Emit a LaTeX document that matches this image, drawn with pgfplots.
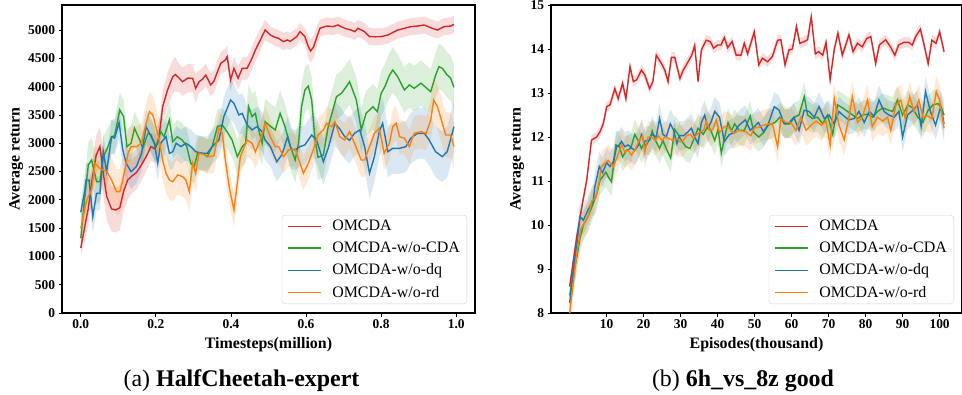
\documentclass[border=0pt]{standalone}
\usepackage{fontspec}
\setmainfont{Liberation Serif}
\usepackage{pgfplots}
\usepackage{pgfplotstable}
\pgfplotsset{compat=1.18}
\usepgfplotslibrary{fillbetween}
\definecolor{cRed}{HTML}{D62728}
\definecolor{cGreen}{HTML}{2CA02C}
\definecolor{cBlue}{HTML}{1F77B4}
\definecolor{cOrange}{HTML}{FF7F0E}

\pgfplotstableread{
t m s
0.000 1150 150
0.010 1500 250
0.020 1850 300
0.030 2350 300
0.041 2790 350
0.051 2940 350
0.060 2470 400
0.069 2060 400
0.082 1838 400
0.093 1820 400
0.104 1860 400
0.114 2150 350
0.125 2350 350
0.136 2420 300
0.148 2480 300
0.160 2600 280
0.174 2760 250
0.187 2940 250
0.197 2900 250
0.205 3000 250
0.212 3300 250
0.218 3645 280
0.231 3940 300
0.245 4175 300
0.252 4215 300
0.262 4150 250
0.271 4087 250
0.285 4150 250
0.298 4147 250
0.306 3970 250
0.315 4087 200
0.324 4130 200
0.333 4205 200
0.346 4030 200
0.355 4100 200
0.364 4264 200
0.373 4412 200
0.385 4470 200
0.390 4529 200
0.399 4117 200
0.408 4323 200
0.419 4147 200
0.430 4323 200
0.443 4323 200
0.456 4500 200
0.465 4647 200
0.474 4765 200
0.491 5000 180
0.505 4912 150
0.518 4870 150
0.527 4853 150
0.540 4794 150
0.550 4824 150
0.558 4800 150
0.575 4883 150
0.584 4971 150
0.597 4883 150
0.606 4706 200
0.612 4630 200
0.620 4700 200
0.630 4900 180
0.637 5030 150
0.655 5071 150
0.672 5060 150
0.685 5089 150
0.703 5030 150
0.720 5000 150
0.730 4971 150
0.738 5030 150
0.756 4971 150
0.769 4883 150
0.785 4880 150
0.800 4883 150
0.818 4912 150
0.844 5000 150
0.862 5030 150
0.879 5060 150
0.897 5070 150
0.915 5089 150
0.932 5040 150
0.950 5000 150
0.968 5060 150
0.985 5070 150
0.994 5100 150
}\redL

\pgfplotstableread{
t m s
0.000 1320 250
0.010 2000 300
0.020 2615 400
0.029 2703 400
0.042 2320 400
0.051 2320 350
0.060 2762 350
0.070 2900 350
0.082 3115 300
0.090 3130 300
0.104 3587 300
0.114 3470 300
0.123 2939 300
0.134 3000 300
0.143 3264 300
0.157 3057 300
0.165 2910 300
0.179 3175 300
0.187 3150 300
0.200 2940 300
0.213 3204 300
0.222 3115 300
0.236 3411 300
0.245 3027 300
0.257 3115 300
0.270 3057 300
0.282 2950 300
0.293 2645 300
0.302 2586 300
0.311 2822 300
0.324 2822 300
0.337 2762 300
0.350 2939 300
0.364 3293 300
0.377 3322 300
0.390 3200 300
0.403 3057 300
0.417 2762 300
0.430 2939 350
0.439 3000 350
0.447 3645 400
0.456 3470 400
0.465 3527 400
0.474 3234 400
0.483 3000 400
0.491 3381 400
0.505 3300 400
0.518 3234 400
0.531 3528 400
0.544 3293 400
0.557 2970 400
0.571 2703 400
0.580 3000 400
0.588 3645 400
0.597 3940 400
0.606 4010 400
0.615 3764 400
0.624 3057 400
0.632 2750 400
0.646 2790 400
0.659 3293 400
0.672 3600 400
0.681 3822 400
0.694 3880 400
0.705 3980 400
0.716 4087 400
0.734 3764 400
0.747 3234 400
0.760 3528 400
0.778 3645 400
0.790 3557 400
0.800 3880 400
0.810 4000 400
0.822 4200 400
0.831 4294 400
0.844 4175 400
0.862 3940 400
0.875 4030 400
0.888 3970 400
0.906 4060 400
0.920 3980 400
0.932 3910 400
0.945 4200 400
0.954 4353 400
0.963 4323 400
0.976 4205 400
0.985 4150 400
0.994 3988 400
}\greenL

\pgfplotstableread{
t m s
0.000 1780 200
0.011 2173 300
0.014 2350 300
0.022 2350 300
0.032 1702 300
0.042 2115 300
0.051 2115 300
0.060 2850 300
0.069 2500 300
0.082 3115 300
0.090 3090 300
0.102 3363 300
0.112 2880 300
0.121 2645 300
0.134 2497 300
0.148 2586 300
0.162 2822 300
0.174 3293 300
0.183 3175 300
0.196 3000 300
0.205 2645 300
0.213 3000 300
0.227 3115 300
0.236 2822 300
0.245 2850 300
0.254 3000 300
0.267 2940 300
0.280 3000 300
0.293 2940 300
0.306 2850 300
0.324 2822 300
0.337 2822 300
0.350 2940 300
0.368 3057 300
0.381 3469 350
0.399 3764 350
0.408 3705 350
0.421 3500 350
0.430 3528 350
0.443 3322 350
0.456 3234 350
0.469 3293 350
0.483 3204 350
0.491 3057 350
0.505 2940 350
0.522 2674 350
0.536 2800 350
0.551 3115 350
0.560 2900 350
0.571 2880 350
0.584 2940 350
0.597 2970 350
0.615 3145 350
0.628 3057 400
0.646 2674 400
0.659 2910 400
0.677 3352 400
0.690 3250 400
0.703 3115 400
0.716 3050 400
0.729 3175 400
0.743 3234 400
0.756 2940 400
0.769 2468 450
0.782 2762 450
0.795 3204 450
0.804 3352 450
0.818 2850 450
0.831 2910 450
0.849 2910 450
0.866 2940 450
0.879 3090 450
0.897 3175 450
0.915 3175 450
0.928 3057 450
0.945 2850 450
0.963 2762 450
0.976 2850 450
0.994 3293 450
}\blueL

\pgfplotstableread{
t m s
0.000 1497 300
0.016 2000 300
0.029 2176 300
0.038 2645 300
0.051 2550 350
0.069 2500 400
0.082 2350 400
0.095 2144 400
0.104 2144 400
0.112 2350 400
0.126 2822 400
0.134 2940 400
0.148 2940 350
0.162 3000 350
0.174 3352 350
0.183 3558 350
0.192 3500 350
0.200 3293 350
0.209 3057 350
0.218 2703 350
0.227 2470 350
0.236 2350 350
0.245 2320 350
0.258 2440 350
0.271 2410 350
0.280 2350 350
0.289 2144 350
0.298 2645 350
0.306 2470 350
0.315 2822 300
0.328 2800 300
0.342 2762 300
0.355 2780 300
0.368 3264 300
0.377 3175 300
0.385 2703 300
0.396 2200 300
0.408 1820 300
0.417 2300 300
0.425 2762 300
0.443 3057 300
0.456 3000 300
0.465 2850 300
0.478 3057 300
0.491 3352 300
0.505 3115 300
0.518 2940 300
0.527 2940 300
0.540 2762 300
0.553 2880 300
0.571 2900 300
0.584 2645 300
0.593 2468 300
0.606 2645 300
0.619 2880 300
0.632 3145 300
0.646 3234 300
0.655 3352 300
0.668 3293 300
0.677 3381 300
0.690 3115 300
0.703 3057 300
0.716 3204 300
0.729 3000 300
0.747 2703 300
0.756 2703 300
0.769 2940 300
0.782 3175 300
0.795 3264 300
0.808 2822 300
0.822 3000 300
0.831 3293 300
0.840 3352 300
0.849 3115 300
0.862 3090 300
0.875 2940 300
0.888 3175 300
0.906 3204 300
0.920 3175 300
0.932 3410 350
0.940 3764 400
0.950 3645 400
0.963 3352 400
0.972 3145 400
0.985 3145 400
0.994 2940 400
}\orangeL

\pgfplotstableread{
t m
0 8.60
1.9 9.73
3.3 10.42
4.6 11.02
5.9 11.93
7.3 12.00
8.2 12.12
9.1 12.31
10.0 12.69
10.9 12.73
12.2 13.10
13.1 12.87
14.3 13.22
15.2 12.87
16.3 13.60
17.2 13.26
18.1 13.30
19.4 13.52
20.3 13.41
21.6 13.10
22.5 13.26
23.4 13.86
24.8 13.67
25.7 13.52
26.6 13.26
27.5 13.81
28.4 13.81
29.8 13.33
30.7 13.52
32.0 13.71
33.0 13.86
33.8 14.08
34.7 13.26
35.6 13.98
36.9 14.20
38.0 14.17
38.9 14.02
40.0 14.09
40.9 14.09
41.8 14.26
42.7 14.03
43.9 14.17
45.0 13.86
46.3 13.86
47.2 14.13
48.1 13.89
49.9 14.39
51.1 13.64
52.1 13.79
53.5 13.71
54.8 13.83
56.2 14.20
57.1 14.21
58.2 13.64
59.3 13.98
60.2 14.00
61.3 14.51
62.2 14.13
63.4 14.17
64.3 14.21
65.3 14.73
66.4 13.89
67.3 13.94
68.4 13.86
69.3 14.15
70.4 13.30
71.5 13.98
72.5 14.36
73.7 13.86
75.5 14.32
76.6 13.94
77.8 14.13
79.1 14.05
80.3 14.24
81.4 14.28
82.7 13.67
83.7 14.09
85.4 14.21
86.7 14.05
87.9 13.86
88.9 14.09
90.3 14.15
91.7 14.15
92.6 14.09
93.5 14.28
94.8 14.45
95.7 14.13
96.9 13.67
97.9 14.20
99.0 14.13
100.0 14.39
101.2 13.94
}\redR

\pgfplotstableread{
t m
0 8.23
1.0 9.00
2.0 9.60
2.8 10.19
3.7 10.11
5.0 10.35
6.4 10.57
6.8 10.87
8.0 11.33
8.9 11.19
10.0 11.42
10.9 11.33
11.8 11.44
12.7 11.78
13.4 11.82
14.0 11.90
14.9 11.78
15.8 11.82
16.7 11.75
17.6 11.70
18.5 11.80
19.4 12.05
20.5 11.78
21.4 11.92
22.3 12.06
23.4 12.00
24.3 12.42
25.2 12.06
26.1 12.00
27.2 12.30
28.1 12.15
29.0 11.85
29.7 12.03
30.8 12.03
32.0 12.12
32.9 12.20
33.8 12.00
34.7 11.85
35.6 12.33
36.5 12.50
37.4 12.20
38.3 12.36
39.2 12.58
40.5 12.45
41.8 11.90
43.1 12.05
44.4 12.10
45.8 12.27
47.5 12.39
48.8 12.15
50.1 12.25
51.0 12.33
52.4 12.12
53.7 12.30
55.3 12.69
56.6 12.61
58.0 12.30
59.3 12.32
60.6 12.45
62.0 12.15
63.4 12.61
64.7 12.58
66.1 12.45
67.4 12.69
68.8 12.42
70.1 12.50
71.5 12.30
72.8 12.58
74.2 12.47
75.5 12.39
76.9 12.42
78.2 12.58
79.6 12.33
81.0 12.58
82.3 12.47
83.6 12.84
85.0 12.58
86.3 12.50
87.7 12.45
89.0 12.58
90.0 12.00
91.3 12.50
92.7 12.60
94.0 12.73
95.0 12.24
96.2 13.03
97.5 12.58
98.9 12.27
100.3 12.69
101.2 12.30
}\blueR

\pgfplotstableread{
t m
0 8.40
1.0 8.90
2.0 9.30
2.8 9.70
3.7 10.00
5.0 10.20
6.4 10.50
7.3 10.70
8.2 11.02
9.8 11.20
10.4 11.10
11.3 10.98
12.5 11.82
13.4 11.78
14.3 11.55
15.4 11.70
16.5 11.74
17.6 12.06
18.5 11.92
19.4 11.74
20.5 11.92
21.6 11.92
22.3 12.14
23.2 11.92
24.3 11.74
25.2 11.92
26.1 11.74
27.3 11.52
28.4 12.17
29.3 12.06
30.2 11.92
31.4 11.78
32.5 11.74
33.8 12.00
34.7 12.20
36.1 12.06
37.4 12.26
38.3 12.12
39.2 11.92
40.1 12.17
41.0 11.63
41.9 12.00
42.8 12.33
43.7 12.14
44.6 12.30
45.8 12.15
47.2 12.15
48.8 12.48
49.8 12.10
51.1 12.00
52.4 12.10
53.7 12.27
55.5 12.33
56.8 12.45
58.1 12.30
59.5 12.30
60.8 12.45
62.0 12.50
63.4 12.92
64.3 12.50
65.6 12.42
67.0 12.45
68.4 12.30
69.7 12.50
71.1 12.06
72.4 12.73
73.8 12.66
75.1 12.58
76.5 12.50
77.8 12.42
79.2 12.50
80.5 12.52
81.9 12.45
83.2 12.58
84.6 12.66
85.9 12.62
87.3 12.58
88.6 12.84
90.0 12.50
91.4 12.73
92.7 12.66
94.1 12.45
95.5 12.33
96.8 12.60
98.2 12.73
99.6 12.76
100.5 12.66
101.2 12.50
}\greenR

\pgfplotstableread{
t m
0 8.00
1.0 8.70
2.0 9.40
3.0 9.90
4.0 10.05
5.0 10.20
6.0 10.55
7.0 10.60
8.0 11.00
8.6 11.33
9.5 11.40
10.4 11.47
11.8 11.33
12.7 11.52
14.0 11.82
14.9 11.66
15.8 11.70
16.7 11.59
17.6 11.70
18.8 11.92
19.7 12.03
20.3 11.66
21.2 12.00
22.1 12.00
23.1 11.92
24.0 12.03
24.9 11.92
25.8 12.00
26.7 11.97
27.9 11.92
29.0 11.97
29.8 11.89
30.7 11.92
31.6 12.03
32.6 12.06
33.5 11.97
34.4 12.06
35.3 12.12
36.2 12.15
36.9 12.36
37.8 12.15
38.7 12.17
39.6 12.39
40.5 12.10
41.8 12.24
43.1 12.20
44.4 12.08
45.8 12.15
47.6 12.12
49.0 12.03
49.8 12.20
51.1 12.22
52.5 12.27
53.9 12.30
54.8 12.30
56.2 11.78
57.1 12.42
58.5 12.33
59.8 12.33
61.2 12.15
62.5 12.45
63.9 12.15
65.3 12.27
66.6 12.36
68.0 12.27
69.3 12.36
70.4 11.82
71.5 12.88
72.8 12.27
74.2 11.94
75.5 12.45
76.4 12.92
77.8 12.33
79.1 12.45
80.5 12.84
81.8 12.24
83.2 12.45
84.6 12.36
85.9 12.45
86.8 12.15
88.2 12.73
89.5 12.84
90.7 12.42
91.9 12.92
93.1 12.58
94.4 12.84
95.5 12.45
96.7 12.48
97.9 12.42
99.1 13.03
100.0 12.84
101.2 12.20
}\orangeR

% #1 table, #2 colour, #3 name, #4 half width
\newcommand{\band}[4]{%
\addplot[name path=#3h, draw=none, forget plot] table[x=t, y expr=\thisrow{m}+#4] {#1};
\addplot[name path=#3l, draw=none, forget plot] table[x=t, y expr=\thisrow{m}-#4] {#1};
\addplot[#2, fill opacity=0.17, draw=none, forget plot] fill between[of=#3h and #3l];}

\pgfplotsset{
  myaxis/.style={
    scale only axis,
    axis line style={line width=1.1bp, black},
    tick pos=left, tick align=outside,
    major tick length=3.5bp,
    every tick/.style={black, line width=0.8bp},
    ticklabel style={font=\bfseries\fontsize{13.5}{15}\selectfont},
    label style={font=\bfseries\fontsize{16}{18}\selectfont},
    legend cell align=left,
    legend style={at={(1,0)}, anchor=south east, xshift=-8bp, yshift=9bp,
      draw=black!18, rounded corners=3bp, fill=white, fill opacity=0.85, text opacity=1,
      font=\fontsize{16}{19}\selectfont, inner xsep=5bp, inner ysep=3bp,
      row sep=5.8bp,
      /tikz/every odd column/.append style={column sep=9bp}},
    legend image code/.code={\draw[##1, line width=1.3bp] (0bp,0bp) -- (33bp,0bp);},
    every axis plot/.append style={line width=1.4bp},
  }
}

\begin{document}
\begin{tikzpicture}
\begin{axis}[myaxis,
  at={(62bp,-313bp)}, anchor=south west,
  width=413bp, height=308bp,
  xmin=-0.05, xmax=1.05, ymin=0, ymax=5442,
  xtick={0,0.2,0.4,0.6,0.8,1}, xticklabels={0.0,0.2,0.4,0.6,0.8,1.0},
  ytick={0,500,1000,1500,2000,2500,3000,3500,4000,4500,5000},
  yticklabels={0,500,1000,1500,2000,2500,3000,3500,4000,4500,5000},
  xlabel={Timesteps(million)}, ylabel={Average return},
  xlabel style={at={(axis description cs:0.5,0)}, anchor=center, yshift=-32bp},
  ylabel style={at={(axis description cs:0,0.5)}, anchor=center, yshift=46bp},
]
\band{\redL}{cRed}{ra}{\thisrow{s}}
\band{\greenL}{cGreen}{ga}{\thisrow{s}}
\band{\blueL}{cBlue}{ba}{\thisrow{s}}
\band{\orangeL}{cOrange}{oa}{\thisrow{s}}
\addplot[cRed] table[x=t,y=m] {\redL}; \addlegendentry{OMCDA}
\addplot[cGreen] table[x=t,y=m] {\greenL}; \addlegendentry{OMCDA-w/o-CDA}
\addplot[cBlue] table[x=t,y=m] {\blueL}; \addlegendentry{OMCDA-w/o-dq}
\addplot[cOrange] table[x=t,y=m] {\orangeL}; \addlegendentry{OMCDA-w/o-rd}
\end{axis}

\begin{axis}[myaxis,
  at={(551bp,-313bp)}, anchor=south west,
  width=411bp, height=308bp,
  xmin=-5.05, xmax=106.05, ymin=8, ymax=15,
  xtick={10,20,30,40,50,60,70,80,90,100},
  ytick={8,9,10,11,12,13,14,15},
  xlabel={Episodes(thousand)}, ylabel={Average return},
  xlabel style={at={(axis description cs:0.5,0)}, anchor=center, yshift=-32bp},
  ylabel style={at={(axis description cs:0,0.5)}, anchor=center, yshift=34bp},
  /pgf/number format/assume math mode=true,
]
\band{\redR}{cRed}{rb}{0.12}
\band{\greenR}{cGreen}{gb}{0.33}
\band{\blueR}{cBlue}{bb}{0.33}
\band{\orangeR}{cOrange}{ob}{0.35}
\addplot[cRed] table[x=t,y=m] {\redR}; \addlegendentry{OMCDA}
\addplot[cGreen] table[x=t,y=m] {\greenR}; \addlegendentry{OMCDA-w/o-CDA}
\addplot[cBlue] table[x=t,y=m] {\blueR}; \addlegendentry{OMCDA-w/o-dq}
\addplot[cOrange] table[x=t,y=m] {\orangeR}; \addlegendentry{OMCDA-w/o-rd}
\end{axis}

\node[anchor=base, font=\fontsize{24}{28}\selectfont] at (241.5bp,-386bp) {(a) \textbf{HalfCheetah-expert}};
\node[anchor=base, font=\fontsize{24}{28}\selectfont] at (743bp,-386bp) {(b) \textbf{6h\_vs\_8z good}};
\pgfresetboundingbox
\path[use as bounding box] (0bp,0bp) rectangle (962bp,-395bp);
\end{tikzpicture}
\end{document}
